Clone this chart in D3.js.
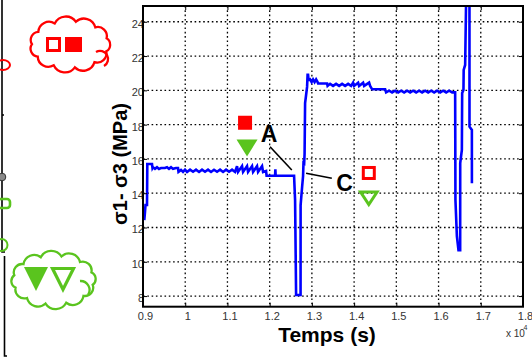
<!DOCTYPE html>
<html><head><meta charset="utf-8">
<script src="https://cdn.jsdelivr.net/npm/d3@7"></script>
<style>body{margin:0;background:#fff}svg{display:block}</style>
</head><body>
<svg id="c" width="532" height="360"></svg>
<script>
// ---- data (time in units of 10^4 s, stress in MPa) ----
const timeX1e4 = [0.9031,0.9047,0.9059,0.9095,0.9102,0.9213,0.9225,0.9237,0.9284,0.9332,0.9379,0.9427,0.9521,0.9569,0.9616,0.9664,0.9711,0.9782,0.9829,0.9841,0.9900,0.9948,0.9995,1.0043,1.0114,1.0185,1.0256,1.0327,1.0398,1.0469,1.0540,1.0611,1.0682,1.0754,1.0825,1.0896,1.0967,1.1038,1.1109,1.1180,1.1227,1.1251,1.1346,1.1370,1.1464,1.1488,1.1583,1.1607,1.1701,1.1725,1.1820,1.1844,1.1915,1.1927,1.2128,1.2135,1.2142,1.2578,
1.2602,1.2626,1.2732,1.2733,1.2768,1.2791,1.2803,1.2815,1.2827,1.2839,1.2863,1.2886,1.2898,1.2910,1.2922,1.2934,1.2957,1.2993,1.3028,1.3064,1.3100,1.3135,1.3147,1.3360,
1.3372,1.3431,1.3502,1.3573,1.3645,1.3716,1.3787,1.3858,1.3929,1.3976,1.4000,1.4095,1.4118,1.4213,1.4237,1.4355,1.4379,1.4427,1.4735,
1.4758,1.4829,1.4900,1.4972,1.5043,1.5114,1.5185,1.5256,1.5327,1.5398,1.5469,1.5540,1.5611,1.5682,1.5754,1.5825,1.5896,1.5967,1.6038,1.6109,1.6180,1.6251,1.6322,1.6393,
1.6400,1.6434,1.6472,1.6512,1.6513,1.6552,1.6559,1.6590,1.6595,1.6630,1.6654,1.6690,1.6732,1.6733,1.6789,1.6790];
const stressMPa = [12.43,12.9,13.31,13.31,15.70,15.70,15.47,15.52,15.42,15.52,15.42,15.47,15.47,15.52,15.42,15.52,15.42,15.47,15.47,15.25,15.36,15.24,15.37,15.24,15.37,15.25,15.37,15.24,15.37,15.25,15.37,15.24,15.37,15.25,15.37,15.24,15.37,15.25,15.37,15.24,15.58,15.24,15.58,15.24,15.58,15.24,15.58,15.24,15.58,15.24,15.58,15.24,15.3,15.02,15.02,15.4,15.02,15.02,
13.6,8.06,8.06,13.31,14.36,15.0,15.9,15.6,16.3,19.26,19.73,20.2,20.9,20.9,20.6,20.6,20.64,20.48,20.64,20.48,20.64,20.48,20.4,20.4,
20.26,20.38,20.26,20.38,20.26,20.38,20.26,20.38,20.26,20.45,20.26,20.45,20.26,20.45,20.26,20.45,20.26,20.06,20.06,
19.88,19.98,19.88,19.98,19.88,19.98,19.88,19.98,19.88,19.98,19.88,19.98,19.88,19.98,19.88,19.98,19.88,19.98,19.88,19.98,19.88,19.98,19.88,19.88,
13.6,11.5,10.68,10.68,15.76,16.52,19.84,20.02,21.19,21.48,25.5,26.5,25.5,17.88,17.69,14.58];
const xTicks = [0.9,1.0,1.1,1.2,1.3,1.4,1.5,1.6,1.7,1.8];
const yTicks = [8,10,12,14,16,18,20,22,24];
const xDomain = [0.9, 1.8];
const yDomain = [7.38, 24.92];
// annotation anchors (data units)
const labelA = {text:"A", t:1.1986, v:17.0};
const labelC = {text:"C", t:1.3775, v:14.13};
const lineA = [[1.2009,16.71],[1.2524,15.35]];
const lineC = [[1.2863,15.16],[1.3472,14.87]];
const markFilled = {tSq:1.1417, sq:18.11, tTri:1.1464, tri:16.63};
const markHollow = {tSq:1.4348, sq:15.18, tTri:1.4348, tri:13.70};

const RED = "#ff0000", GREEN = "#5ac41e", BLUE = "#0000ff";
const svg = d3.select("#c");
const L = 143, R = 523, T = 6, B = 306.7;
const x = d3.scaleLinear().domain(xDomain).range([L, R]);
const y = d3.scaleLinear().domain(yDomain).range([B, T]);

// grid
const grid = svg.append("g").attr("stroke","#000").attr("stroke-width",1.3).attr("stroke-dasharray","1.6,2.7");
grid.selectAll("line.v").data(xTicks.slice(1,-1)).join("line")
  .attr("x1",d=>x(d)).attr("x2",d=>x(d)).attr("y1",T).attr("y2",B);
grid.selectAll("line.h").data(yTicks).join("line")
  .attr("x1",L).attr("x2",R).attr("y1",d=>y(d)).attr("y2",d=>y(d));

// data line
svg.append("clipPath").attr("id","clip").append("rect").attr("x",L).attr("y",T).attr("width",R-L).attr("height",B-T);
const pts = timeX1e4.map((t,i)=>[t,stressMPa[i]]);
svg.append("path").attr("clip-path","url(#clip)")
  .attr("d", d3.line().x(d=>x(d[0])).y(d=>y(d[1]))(pts))
  .attr("fill","none").attr("stroke",BLUE).attr("stroke-width",2.6).attr("stroke-linejoin","miter");

// axes
const fmt = d3.format("~g");
const ax = svg.append("g").attr("transform",`translate(0,${B})`)
  .call(d3.axisBottom(x).tickValues(xTicks).tickFormat(fmt).tickSizeInner(-4).tickSizeOuter(0).tickPadding(6));
const ay = svg.append("g").attr("transform",`translate(${L},0)`)
  .call(d3.axisLeft(y).tickValues(yTicks).tickFormat(fmt).tickSizeInner(-4).tickSizeOuter(0).tickPadding(-1));
const at = svg.append("g").attr("transform",`translate(0,${T})`)
  .call(d3.axisTop(x).tickValues(xTicks).tickFormat("").tickSizeInner(-4).tickSizeOuter(0));
const ar = svg.append("g").attr("transform",`translate(${R},0)`)
  .call(d3.axisRight(y).tickValues(yTicks).tickFormat("").tickSizeInner(-4).tickSizeOuter(0));
[ax,ay,at,ar].forEach(g=>{
  g.select(".domain").remove();
  g.selectAll(".tick line").attr("stroke","#000").attr("stroke-width",1);
  g.selectAll("text").attr("font-family","Liberation Sans, Arial, sans-serif").attr("font-size",11).attr("fill","#333");
});
ax.selectAll(".tick text").attr("dx",2);
ay.selectAll(".tick text").attr("dy","0.5em");
svg.append("rect").attr("x",L).attr("y",T).attr("width",R-L).attr("height",B-T)
  .attr("fill","none").attr("stroke","#000").attr("stroke-width",2);

// axis titles
svg.append("text").attr("x",327).attr("y",341.5).attr("text-anchor","middle")
  .attr("font-family","Liberation Sans, Arial, sans-serif").attr("font-weight","bold").attr("font-size",21)
  .text("Temps (s)");
svg.append("text").attr("transform","translate(127,164) rotate(-90)").attr("text-anchor","middle")
  .attr("font-family","Liberation Sans, Arial, sans-serif").attr("font-weight","bold").attr("font-size",20)
  .text("σ1- σ3 (MPa)");
const ex = svg.append("text").attr("x",506).attr("y",336.5)
  .attr("font-family","Liberation Sans, Arial, sans-serif").attr("font-size",10).attr("fill","#333");
ex.append("tspan").text("x 10");
ex.append("tspan").attr("font-size",7).attr("dx",-1.5).attr("dy",-7).text("4");

// annotations
svg.append("line").attr("x1",x(lineA[0][0])).attr("y1",y(lineA[0][1])).attr("x2",x(lineA[1][0])).attr("y2",y(lineA[1][1]))
  .attr("stroke","#000").attr("stroke-width",1.6);
svg.append("line").attr("x1",x(lineC[0][0])).attr("y1",y(lineC[0][1])).attr("x2",x(lineC[1][0])).attr("y2",y(lineC[1][1]))
  .attr("stroke","#000").attr("stroke-width",1.6);
[labelA,labelC].forEach(l=>svg.append("text").attr("x",x(l.t)).attr("y",y(l.v)).attr("text-anchor","middle")
  .attr("font-family","Liberation Sans, Arial, sans-serif").attr("font-weight","bold").attr("font-size",23).text(l.text));

function tri(cx,cy,w,h){return `M${cx-w/2},${cy-h/2}L${cx+w/2},${cy-h/2}L${cx},${cy+h/2}Z`;}
// filled markers near A
svg.append("rect").attr("x",x(markFilled.tSq)-7).attr("y",y(markFilled.sq)-7).attr("width",14).attr("height",14).attr("fill",RED);
svg.append("path").attr("d",tri(x(markFilled.tTri),y(markFilled.tri),21,17)).attr("fill",GREEN);
// hollow markers near C
svg.append("rect").attr("x",x(markHollow.tSq)-5.5).attr("y",y(markHollow.sq)-5.5).attr("width",11).attr("height",11)
  .attr("fill","none").attr("stroke",RED).attr("stroke-width",3);
svg.append("path").attr("d",tri(x(markHollow.tTri),y(markHollow.tri),16.5,12.5)).attr("fill","none").attr("stroke",GREEN).attr("stroke-width",3).attr("stroke-linejoin","miter");

// clouds
function cloud(cx,cy,rx,ry,n,phase){
  const p=d3.range(n+1).map(i=>{const a=phase+2*Math.PI*i/n;return [cx+rx*Math.cos(a),cy+ry*Math.sin(a)];});
  let d=`M${p[0][0]},${p[0][1]}`;
  for(let i=1;i<=n;i++){const dx=p[i][0]-p[i-1][0],dy=p[i][1]-p[i-1][1];const r=Math.hypot(dx,dy)*0.58;d+=`A${r},${r} 0 0 1 ${p[i][0]},${p[i][1]}`;}
  return d+"Z";
}
svg.append("path").attr("d",cloud(70,44.5,38,23,11,0.3)).attr("fill","#fff").attr("stroke",RED).attr("stroke-width",2.3);
svg.append("path").attr("d","M96,52 A8,8 0 0 1 104,66").attr("fill","none").attr("stroke",RED).attr("stroke-width",2.3);
svg.append("rect").attr("x",47.5).attr("y",38.5).attr("width",12).attr("height",12).attr("fill","none").attr("stroke",RED).attr("stroke-width",3);
svg.append("rect").attr("x",65).attr("y",37).attr("width",17).attr("height",15).attr("fill",RED);

svg.append("path").attr("d",cloud(53.5,280,40,24,12,0.2)).attr("fill","#fff").attr("stroke",GREEN).attr("stroke-width",2.3);
svg.append("path").attr("d","M80,281 A9,9 0 0 1 88,295").attr("fill","none").attr("stroke",GREEN).attr("stroke-width",2.3);
svg.append("path").attr("d",tri(36,279,24,24)).attr("fill",GREEN);
svg.append("path").attr("d",tri(63,279,21,21)).attr("fill","none").attr("stroke",GREEN).attr("stroke-width",3.2);

// left-edge fragments
svg.append("path").attr("d","M2,0V252H5M4.5,256V356H7M2,115H4").attr("fill","none").attr("stroke","#000").attr("stroke-width",1.6);
svg.append("ellipse").attr("cx",3).attr("cy",65).attr("rx",7).attr("ry",5).attr("fill","none").attr("stroke",RED).attr("stroke-width",2);
svg.append("circle").attr("cx",2).attr("cy",177).attr("r",3.8).attr("fill","#8a8a8a").attr("stroke","#333").attr("stroke-width",1);
svg.append("rect").attr("x",-2).attr("y",199).attr("width",12).attr("height",9).attr("rx",3).attr("fill","none").attr("stroke",GREEN).attr("stroke-width",2.6);
svg.append("ellipse").attr("cx",1.5).attr("cy",245).attr("rx",6).attr("ry",6).attr("fill","none").attr("stroke",GREEN).attr("stroke-width",2);
</script>
</body></html>
